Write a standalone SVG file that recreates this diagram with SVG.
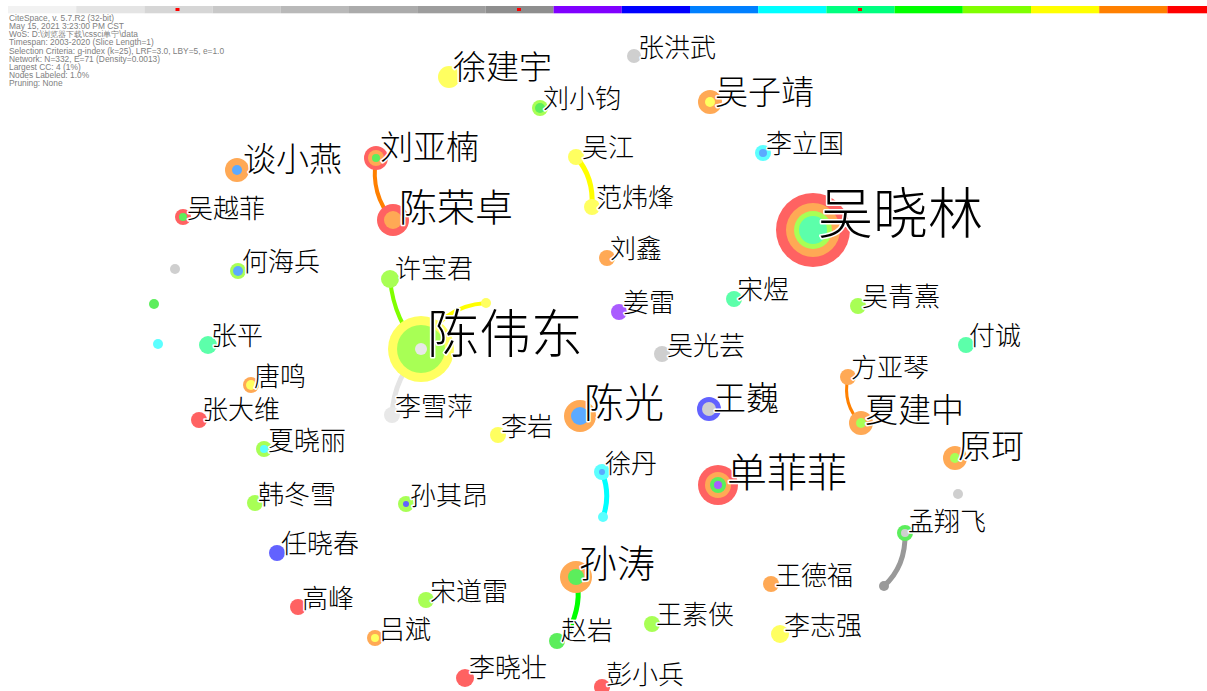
<svg xmlns="http://www.w3.org/2000/svg" width="1207" height="691" viewBox="0 0 1207 691">
<style>
.info{font-family:"Liberation Sans",Arial,sans-serif;font-size:8.4px;fill:#808080}
.lb{font-family:"Noto Sans CJK SC",sans-serif;font-weight:300;fill:#000;stroke:#fff;stroke-width:3;paint-order:stroke;stroke-linejoin:round}
.s26{font-size:26px}.s33{font-size:33px}.s38{font-size:38px}.s40{font-size:40px}.s52{font-size:52px}.s55{font-size:55px}
.e{fill:none;stroke-linecap:round}
.r{fill:#ff6262}.o{fill:#ffa955}.y{fill:#ffff60}.c{fill:#a8ff55}.g{fill:#5cee5c}.sp{fill:#5cffaa}.cy{fill:#5cffff}.az{fill:#5caaff}.b{fill:#6262ff}.p{fill:#aa5cff}.gr{fill:#cfcfcf}.lg{fill:#e8e8e8}.dg{fill:#9a9a9a}
</style>
<g id="colorbar">
<rect x="8" y="6" width="68.2" height="7.3" fill="#f2f2f2"/>
<rect x="76.2" y="6" width="68.2" height="7.3" fill="#e4e4e4"/>
<rect x="144.4" y="6" width="68.2" height="7.3" fill="#d6d6d6"/>
<rect x="212.6" y="6" width="68.2" height="7.3" fill="#c8c8c8"/>
<rect x="280.8" y="6" width="68.2" height="7.3" fill="#b9b9b9"/>
<rect x="349" y="6" width="68.2" height="7.3" fill="#ababab"/>
<rect x="417.2" y="6" width="68.2" height="7.3" fill="#9d9d9d"/>
<rect x="485.4" y="6" width="68.2" height="7.3" fill="#8e8e8e"/>
<rect x="553.6" y="6" width="68.2" height="7.3" fill="#8000ff"/>
<rect x="621.8" y="6" width="68.2" height="7.3" fill="#0000ff"/>
<rect x="690" y="6" width="68.2" height="7.3" fill="#0080ff"/>
<rect x="758.2" y="6" width="68.2" height="7.3" fill="#00ffff"/>
<rect x="826.4" y="6" width="68.2" height="7.3" fill="#00ff80"/>
<rect x="894.6" y="6" width="68.2" height="7.3" fill="#00ff00"/>
<rect x="962.8" y="6" width="68.2" height="7.3" fill="#80ff00"/>
<rect x="1031" y="6" width="68.2" height="7.3" fill="#ffff00"/>
<rect x="1099.2" y="6" width="68.2" height="7.3" fill="#ff8000"/>
<rect x="1167.4" y="6" width="40" height="7.3" fill="#ff0000"/>
<rect x="175.5" y="8" width="4" height="3" fill="#ff0000"/>
<rect x="517" y="8" width="4" height="3" fill="#ff0000"/>
<rect x="858" y="8" width="4" height="3" fill="#ff0000"/>
</g>
<g id="info">
<text class="info" x="9" y="21">CiteSpace, v. 5.7.R2 (32-bit)</text>
<text class="info" x="9" y="29">May 15, 2021 3:23:00 PM CST</text>
<text class="info" x="9" y="37">WoS: D:\浏览器下载\cssci单宁\data</text>
<text class="info" x="9" y="45">Timespan: 2003-2020 (Slice Length=1)</text>
<text class="info" x="9" y="53.5">Selection Criteria: g-index (k=25), LRF=3.0, LBY=5, e=1.0</text>
<text class="info" x="9" y="62">Network: N=332, E=71 (Density=0.0013)</text>
<text class="info" x="9" y="70">Largest CC: 4 (1%)</text>
<text class="info" x="9" y="78">Nodes Labeled: 1.0%</text>
<text class="info" x="9" y="86">Pruning: None</text>
</g>
<g id="edges">
<path class="e" d="M376,158 Q370,195 393,220" stroke="#ff8000" stroke-width="4"/>
<path class="e" d="M576,157 Q594,177 592,207" stroke="#ffff00" stroke-width="5"/>
<path class="e" d="M390,279 Q394,322 422,350" stroke="#80ff00" stroke-width="4"/>
<path class="e" d="M422,350 Q440,306 486,303" stroke="#ffff00" stroke-width="4"/>
<path class="e" d="M422,350 Q394,376 392,415" stroke="#e4e4e4" stroke-width="5"/>
<path class="e" d="M602,472 Q611,495 603,517" stroke="#00ffff" stroke-width="5"/>
<path class="e" d="M576,577 Q583,603 568,632" stroke="#00ff00" stroke-width="5"/>
<path class="e" d="M848,377 Q842,405 861,423" stroke="#ff8000" stroke-width="3"/>
<path class="e" d="M905,533 Q906,566 884,586" stroke="#999999" stroke-width="5"/>
</g>
<g id="dots">
<circle class="gr" cx="175" cy="269" r="5"/>
<circle class="g" cx="154" cy="304" r="5"/>
<circle class="cy" cx="158" cy="344" r="5"/>
<circle class="gr" cx="958" cy="494" r="5"/>
<circle class="cy" cx="603" cy="517" r="5"/>
<circle class="dg" cx="884" cy="586" r="5"/>
<circle class="y" cx="486" cy="303" r="5"/>
</g>
<g id="n-xujianyu"><circle class="y" cx="449" cy="77" r="11"/><text class="lb s33" x="453" y="79">徐建宇</text></g>
<g id="n-zhanghongwu"><circle class="gr" cx="634" cy="56" r="7"/><text class="lb s26" x="638" y="57">张洪武</text></g>
<g id="n-liuxiaojun"><circle class="c" cx="540" cy="108" r="8"/><circle class="g" cx="540" cy="108" r="5"/><text class="lb s26" x="543" y="108">刘小钧</text></g>
<g id="n-wuzijing"><circle class="o" cx="710" cy="102" r="12"/><circle class="y" cx="710" cy="102" r="5"/><text class="lb s33" x="715" y="104">吴子靖</text></g>
<g id="n-tanxiaoyan"><circle class="o" cx="237" cy="170" r="12"/><circle class="az" cx="237" cy="170" r="5"/><text class="lb s33" x="243" y="171">谈小燕</text></g>
<g id="n-liuyanan"><circle class="r" cx="376" cy="158" r="12"/><circle class="o" cx="376" cy="158" r="8"/><circle class="g" cx="376" cy="158" r="4"/><text class="lb s33" x="380" y="159">刘亚楠</text></g>
<g id="n-chenrongzhuo"><circle class="r" cx="393" cy="220" r="16"/><circle class="o" cx="393" cy="220" r="9"/><text class="lb s38" x="399" y="221">陈荣卓</text></g>
<g id="n-wujiang"><circle class="y" cx="576" cy="157" r="8"/><text class="lb s26" x="582" y="157">吴江</text></g>
<g id="n-fanweifeng"><circle class="y" cx="592" cy="207" r="8"/><text class="lb s26" x="596" y="207">范炜烽</text></g>
<g id="n-liliguo"><circle class="cy" cx="763" cy="153" r="8"/><circle class="az" cx="763" cy="153" r="4"/><text class="lb s26" x="766" y="153">李立国</text></g>
<g id="n-wuxiaolin"><circle class="r" cx="813" cy="230" r="37"/><circle class="o" cx="813" cy="230" r="27"/><circle class="c" cx="813" cy="230" r="19"/><circle class="sp" cx="813" cy="230" r="14"/><text class="lb s55" x="818" y="233">吴晓林</text></g>
<g id="n-wuyuefei"><circle class="r" cx="183" cy="217" r="8"/><circle class="g" cx="183" cy="217" r="4"/><text class="lb s26" x="187" y="218">吴越菲</text></g>
<g id="n-liuxin"><circle class="o" cx="607" cy="258" r="8"/><text class="lb s26" x="610" y="258">刘鑫</text></g>
<g id="n-hehaibing"><circle class="c" cx="238" cy="271" r="8"/><circle class="az" cx="238" cy="271" r="5"/><text class="lb s26" x="242" y="271">何海兵</text></g>
<g id="n-zhangping"><circle class="sp" cx="208" cy="345" r="9"/><text class="lb s26" x="211" y="345">张平</text></g>
<g id="n-xubaojun"><circle class="c" cx="390" cy="279" r="9"/><text class="lb s26" x="395" y="278">许宝君</text></g>
<g id="n-chenweidong"><circle class="y" cx="421" cy="349" r="33"/><circle class="c" cx="421" cy="349" r="24"/><circle class="lg" cx="421" cy="349" r="6"/><text class="lb s52" x="427" y="353">陈伟东</text></g>
<g id="n-jianglei"><circle class="p" cx="619" cy="312" r="8"/><text class="lb s26" x="623" y="312">姜雷</text></g>
<g id="n-songyu"><circle class="sp" cx="734" cy="299" r="8"/><text class="lb s26" x="737" y="299">宋煜</text></g>
<g id="n-wuqingxi"><circle class="c" cx="858" cy="306" r="8"/><text class="lb s26" x="862" y="306">吴青熹</text></g>
<g id="n-fucheng"><circle class="sp" cx="966" cy="345" r="8"/><text class="lb s26" x="969" y="345">付诚</text></g>
<g id="n-wuguangyun"><circle class="gr" cx="662" cy="354" r="8"/><text class="lb s26" x="667" y="355">吴光芸</text></g>
<g id="n-fangyaqin"><circle class="o" cx="848" cy="377" r="8"/><text class="lb s26" x="851" y="377">方亚琴</text></g>
<g id="n-xiajianzhong"><circle class="o" cx="861" cy="423" r="12"/><circle class="c" cx="861" cy="423" r="5"/><text class="lb s33" x="865" y="422">夏建中</text></g>
<g id="n-yuanke"><circle class="o" cx="955" cy="458" r="12"/><circle class="c" cx="955" cy="458" r="5"/><text class="lb s33" x="958" y="458">原珂</text></g>
<g id="n-mengxiangfei"><circle class="g" cx="905" cy="533" r="8"/><circle class="gr" cx="905" cy="533" r="4"/><text class="lb s26" x="908" y="531">孟翔飞</text></g>
<g id="n-tangming"><circle class="o" cx="251" cy="385" r="8"/><circle class="y" cx="251" cy="385" r="5"/><text class="lb s26" x="254" y="386">唐鸣</text></g>
<g id="n-zhangdawei"><circle class="r" cx="199" cy="420" r="8"/><text class="lb s26" x="202" y="419">张大维</text></g>
<g id="n-lixueping"><circle class="lg" cx="392" cy="415" r="8"/><text class="lb s26" x="395" y="416">李雪萍</text></g>
<g id="n-liyan"><circle class="y" cx="498" cy="435" r="8"/><text class="lb s26" x="501" y="436">李岩</text></g>
<g id="n-chenguang"><circle class="o" cx="580" cy="416" r="16"/><circle class="az" cx="580" cy="416" r="9"/><text class="lb s40" x="584" y="417">陈光</text></g>
<g id="n-wangwei"><circle class="b" cx="709" cy="409" r="12"/><circle class="gr" cx="709" cy="409" r="7"/><text class="lb s33" x="713" y="410">王巍</text></g>
<g id="n-xiaxiaoli"><circle class="c" cx="264" cy="449" r="8"/><circle class="cy" cx="264" cy="449" r="4"/><text class="lb s26" x="268" y="450">夏晓丽</text></g>
<g id="n-xudan"><circle class="cy" cx="602" cy="472" r="8"/><circle class="az" cx="602" cy="472" r="3"/><text class="lb s26" x="605" y="473">徐丹</text></g>
<g id="n-shanfeifei"><circle class="r" cx="718" cy="485" r="20"/><circle class="o" cx="718" cy="485" r="13"/><circle class="g" cx="718" cy="485" r="8"/><circle class="p" cx="718" cy="485" r="4"/><text class="lb s40" x="727" y="487">单菲菲</text></g>
<g id="n-handongxue"><circle class="c" cx="255" cy="503" r="8"/><text class="lb s26" x="258" y="504">韩冬雪</text></g>
<g id="n-sunqiang"><circle class="c" cx="406" cy="504" r="8"/><circle class="b" cx="406" cy="504" r="3"/><text class="lb s26" x="410" y="505">孙其昂</text></g>
<g id="n-renxiaochun"><circle class="b" cx="277" cy="553" r="8"/><text class="lb s26" x="281" y="553">任晓春</text></g>
<g id="n-suntao"><circle class="o" cx="576" cy="577" r="16"/><circle class="g" cx="576" cy="577" r="8"/><text class="lb s38" x="579" y="577">孙涛</text></g>
<g id="n-wangdefu"><circle class="o" cx="771" cy="584" r="8"/><text class="lb s26" x="775" y="585">王德福</text></g>
<g id="n-gaofeng"><circle class="r" cx="298" cy="607" r="8"/><text class="lb s26" x="302" y="608">高峰</text></g>
<g id="n-songdaolei"><circle class="c" cx="426" cy="600" r="8"/><text class="lb s26" x="430" y="601">宋道雷</text></g>
<g id="n-lvbin"><circle class="o" cx="375" cy="638" r="8"/><circle class="y" cx="375" cy="638" r="4"/><text class="lb s26" x="379" y="639">吕斌</text></g>
<g id="n-zhaoyan"><circle class="g" cx="557" cy="641" r="8"/><text class="lb s26" x="561" y="640">赵岩</text></g>
<g id="n-wangsuxia"><circle class="c" cx="652" cy="624" r="8"/><text class="lb s26" x="656" y="624">王素侠</text></g>
<g id="n-lizhiqiang"><circle class="y" cx="780" cy="634" r="9"/><text class="lb s26" x="784" y="635">李志强</text></g>
<g id="n-lixiaozhuang"><circle class="r" cx="465" cy="678" r="9"/><text class="lb s26" x="469" y="677">李晓壮</text></g>
<g id="n-pengxiaobing"><circle class="r" cx="602" cy="687" r="8"/><text class="lb s26" x="606" y="684">彭小兵</text></g>
</svg>
